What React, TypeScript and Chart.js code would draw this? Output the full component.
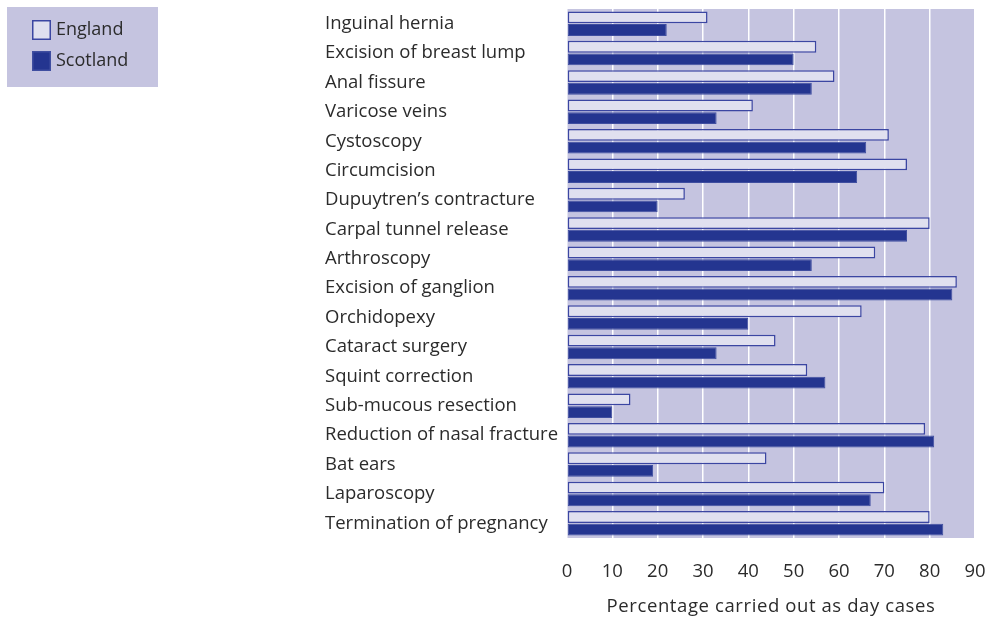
import React, { useEffect, useRef } from "react";
import { Chart, registerables } from "chart.js";

Chart.register(...registerables);

const categories = [
  "Inguinal hernia",
  "Excision of breast lump",
  "Anal fissure",
  "Varicose veins",
  "Cystoscopy",
  "Circumcision",
  "Dupuytren\u2019s contracture",
  "Carpal tunnel release",
  "Arthroscopy",
  "Excision of ganglion",
  "Orchidopexy",
  "Cataract surgery",
  "Squint correction",
  "Sub-mucous resection",
  "Reduction of nasal fracture",
  "Bat ears",
  "Laparoscopy",
  "Termination of pregnancy",
];

const england = [31, 55, 59, 41, 71, 75, 26, 80, 68, 86, 65, 46, 53, 14, 79, 44, 70, 80];
const scotland = [22, 50, 54, 33, 66, 64, 20, 75, 54, 85, 40, 33, 57, 10, 81, 19, 67, 83];

const xTicks = [0, 10, 20, 30, 40, 50, 60, 70, 80, 90];
const xTitle = "Percentage carried out as day cases";
const seriesNames = ["England", "Scotland"];

const FONT = "'Open Sans', sans-serif";
const TEXT = "#2b2b2b";
const PLOT_BG = "#c5c4e0";
const FS = 18.5;

const bgPlugin = {
  id: "plotBg",
  beforeDraw(chart: any) {
    const { ctx, chartArea } = chart;
    ctx.save();
    ctx.fillStyle = PLOT_BG;
    ctx.fillRect(chartArea.left, chartArea.top, chartArea.right - chartArea.left, chartArea.bottom - chartArea.top);
    ctx.restore();
  },
};

const titlePlugin = {
  id: "xTitleDraw",
  afterDraw(chart: any) {
    const { ctx, chartArea } = chart;
    ctx.save();
    ctx.fillStyle = TEXT;
    ctx.font = `${FS}px ${FONT}`;
    (ctx as any).letterSpacing = "0.6px";
    ctx.textAlign = "center";
    ctx.textBaseline = "middle";
    ctx.fillText(xTitle, (chartArea.left + chartArea.right) / 2, 607);
    ctx.restore();
  },
};

const legendPlugin = {
  id: "boxLegend",
  afterDraw(chart: any) {
    const { ctx } = chart;
    ctx.save();
    ctx.fillStyle = PLOT_BG;
    ctx.fillRect(7, 7, 151, 80);
    chart.data.datasets.forEach((ds: any, i: number) => {
      const y = 20 + i * 31;
      ctx.fillStyle = ds.backgroundColor;
      ctx.fillRect(32, y, 19, 20);
      ctx.strokeStyle = ds.borderColor;
      ctx.lineWidth = 1.5;
      ctx.strokeRect(32.75, y + 0.75, 17.5, 18.5);
      ctx.fillStyle = TEXT;
      ctx.font = `18px ${FONT}`;
      ctx.textBaseline = "middle";
      ctx.textAlign = "left";
      ctx.fillText(ds.label, 56, y + 10);
    });
    ctx.restore();
  },
};

export default function App() {
  const ref = useRef<HTMLCanvasElement>(null);
  useEffect(() => {
    if (!ref.current) return;
    const chart = new Chart(ref.current, {
      type: "bar",
      data: {
        labels: categories,
        datasets: [
          {
            label: seriesNames[0],
            data: england,
            backgroundColor: "#e0e0ef",
            borderColor: "#3b46a2",
            borderWidth: 1.5,
            borderSkipped: false,
            categoryPercentage: 0.86,
            barPercentage: 0.94,
          },
          {
            label: seriesNames[1],
            data: scotland,
            backgroundColor: "#243590",
            borderColor: "#3f4ea0",
            borderWidth: 1,
            borderSkipped: false,
            categoryPercentage: 0.86,
            barPercentage: 0.94,
          },
        ],
      },
      plugins: [bgPlugin, legendPlugin, titlePlugin],
      options: {
        indexAxis: "y",
        animation: false,
        responsive: false,
        maintainAspectRatio: false,
        layout: { padding: { left: 325, top: 9, right: 11, bottom: 0 } },
        plugins: {
          legend: { display: false },
          tooltip: { enabled: false },
        },
        scales: {
          x: {
            min: 0,
            max: 90,
            afterBuildTicks(scale: any) {
              scale.ticks = xTicks.map((v) => ({ value: v }));
            },
            afterFit(scale: any) {
              scale.height = 80;
              scale.paddingLeft = 0;
              scale.paddingRight = 0;
            },
            grid: {
              color: "#ffffff",
              lineWidth: 1.5,
              drawTicks: false,
            },
            border: { display: false },
            ticks: {
              color: TEXT,
              font: { family: FONT, size: FS },
              padding: 23,
              maxRotation: 0,
              autoSkip: false,
            },
          },
          y: {
            grid: { display: false, drawTicks: false },
            border: { display: false },
            afterFit(scale: any) {
              scale.width = 242;
              scale.paddingTop = 0;
              scale.paddingBottom = 0;
            },
            ticks: {
              color: TEXT,
              font: { family: FONT, size: FS },
              crossAlign: "far",
              padding: 0,
              autoSkip: false,
            },
          },
        },
      },
    });
    return () => chart.destroy();
  }, []);
  return (
    <div style={{ position: "fixed", left: 0, top: 0, width: 986, height: 618, background: "#fff" }}>
      <canvas ref={ref} width={986} height={618} style={{ display: "block", width: 986, height: 618 }} />
    </div>
  );
}
